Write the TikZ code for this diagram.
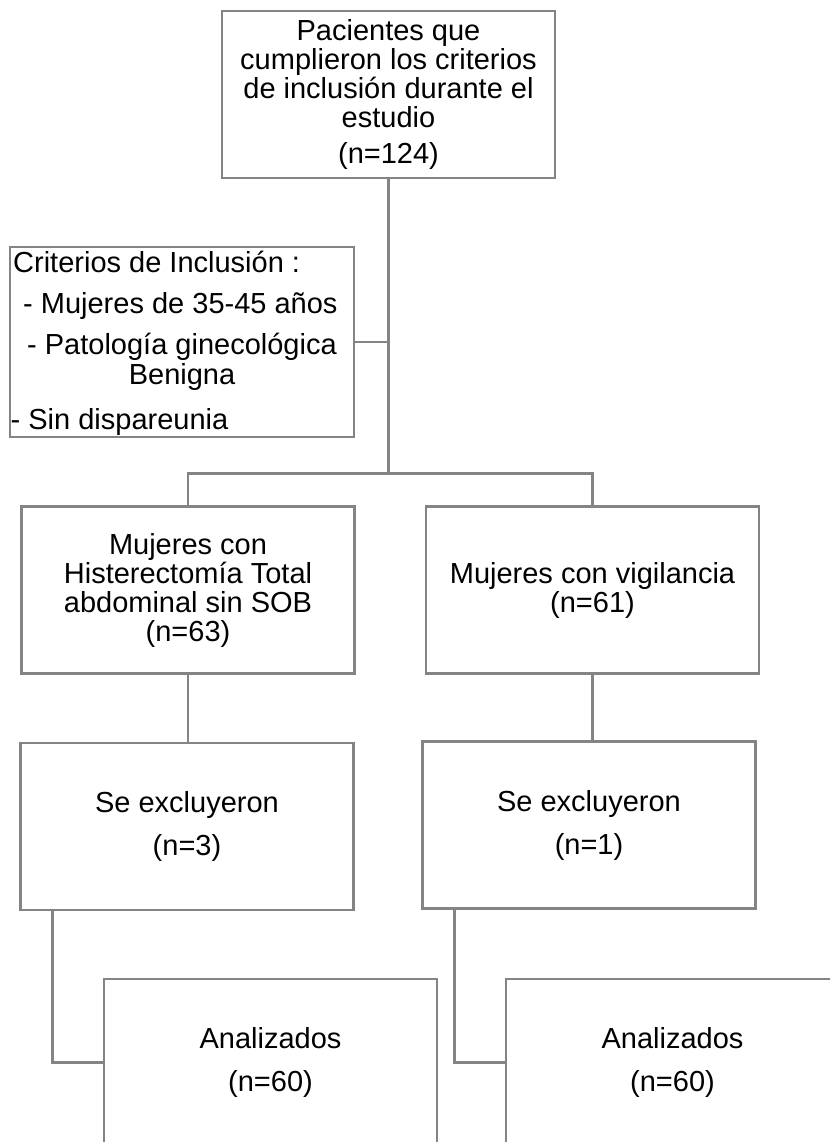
\documentclass[tikz,border=0pt]{standalone}
\usepackage{fontspec}
\setmainfont{Liberation Sans}
\usetikzlibrary{positioning}
\definecolor{linegray}{RGB}{132,132,132}
\tikzset{
  caja/.style={draw=linegray, line width=2.6pt, fill=white, minimum width=333pt,
    minimum height=167pt, align=center, inner sep=0pt},
  linea/.style={draw=linegray, line width=2.6pt},
  texto/.style={inner sep=0pt, anchor=west}
}

\begin{document}
\begin{tikzpicture}[x=1pt, y=-1pt, font=\fontsize{29}{29}\selectfont]
  \useasboundingbox (0,0) rectangle (830,1142);
  \clip (0,0) rectangle (830,1142);

  % pacientes y criterios
  \node[caja] (pacientes) at (388.5,94.5) {Pacientes que\\cumplieron los criterios\\de inclusión durante el\\estudio\\[7pt](n=124)};
  \node[caja, minimum width=344pt, minimum height=190pt] (criterios) at (182,342) {};
  \node[texto] (crit1) at (13,262) {Criterios de Inclusión :};
  \node[texto] (crit2) at (23,306) {- Mujeres de 35-45 años};
  \node[texto] (crit3) at (27,347) {- Patología ginecológica};
  \node[inner sep=0pt] (crit4) at (182,377) {Benigna};
  \node[texto] (crit5) at (10.5,422) {- Sin dispareunia};

  % grupos
  \node[caja] (histerectomia) at (188,590) {Mujeres con\\Histerectomía Total\\abdominal sin SOB\\(n=63)};
  \node[caja] (vigilancia) at (592.5,590) {Mujeres con vigilancia\\(n=61)};
  \node[caja] (excluidos1) at (187,826.5) {Se excluyeron\\[14pt](n=3)};
  \node[caja] (excluidos2) at (589,825) {Se excluyeron\\[14pt](n=1)};
  \node[caja] (analizados1) at (270.5,1062.5) {Analizados\\[14pt](n=60)};
  \node[caja] (analizados2) at (672.5,1062.5) {Analizados\\[14pt](n=60)};

  % conectores
  \path (pacientes.south) ++(0,294) coordinate (union);
  \draw[linea] (pacientes.south) -- (union);
  \draw[linea] (criterios.east) -- (criterios.east -| union);
  \draw[linea] (histerectomia.north) |- (union) -| (vigilancia.north);
  \draw[linea] (histerectomia.south) -- (histerectomia.south |- excluidos1.north);
  \draw[linea] (vigilancia.south) -- (vigilancia.south |- excluidos2.north);
  \draw[linea] ([xshift=33pt]excluidos1.south west) |- (analizados1.west);
  \draw[linea] ([xshift=33pt]excluidos2.south west) |- (analizados2.west);
\end{tikzpicture}
\end{document}
